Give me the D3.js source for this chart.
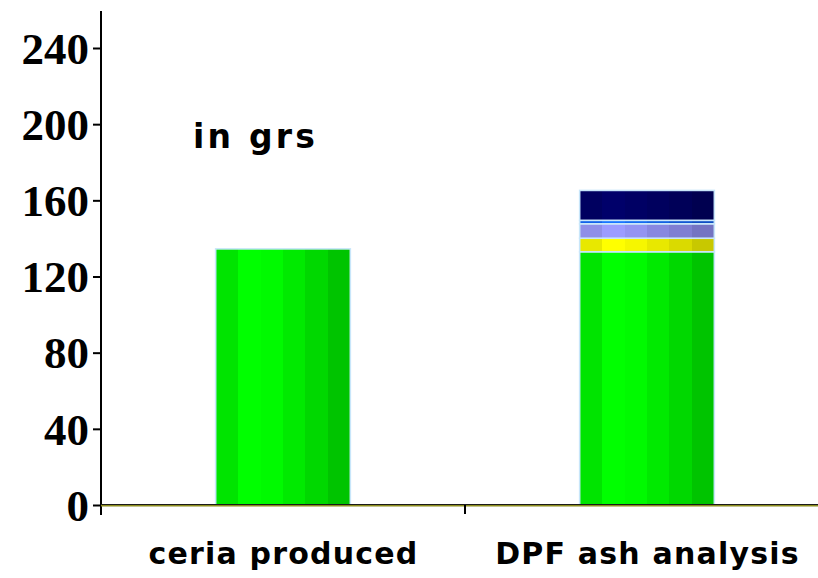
<!DOCTYPE html>
<html>
<head>
<meta charset="utf-8">
<script src="https://cdn.jsdelivr.net/npm/d3@7"></script>
<style>
  html, body { margin: 0; padding: 0; background: #fff; }
  svg { display: block; }
</style>
</head>
<body>
<svg id="chart" width="818" height="578"></svg>
<script>
// Categories and stacked components (grams)
const categories = ["ceria produced", "DPF ash analysis"];
const ceria      = [134.5, 133];
const yellowPart = [0, 7.1];
const violetPart = [0, 7.6];
const bluePart   = [0, 1.8];
const navyPart   = [0, 15.7];
const yTicks     = [0, 40, 80, 120, 160, 200, 240];
const unitLabel  = "in grs";

const seriesKeys = ["ceria", "yellow", "violet", "blue", "navy"];
const seriesData = { ceria, yellow: yellowPart, violet: violetPart, blue: bluePart, navy: navyPart };
const palette = {
  ceria:  ["#00e400", "#00ff00", "#00fa00", "#00ea00", "#00d800", "#00c400"],
  yellow: ["#e8e800", "#ffff00", "#f6f600", "#e8e800", "#dada00", "#c8c800"],
  violet: ["#8f8fe8", "#9c9cff", "#9494f2", "#8888e0", "#7f7fd2", "#7474c2"],
  blue:   ["#0a5ce8", "#1070ff", "#0c66f0", "#0a5ce0", "#0852d0", "#0648c0"],
  navy:   ["#000060", "#00006a", "#000064", "#00005e", "#000058", "#000050"]
};

const x0 = 101, x1 = 829;           // category axis extent
const yZero = 505, yTopPx = 11;

const svg = d3.select("#chart");
const defs = svg.append("defs");

// Banded horizontal shading for the bar faces
seriesKeys.forEach(k => {
  const g = defs.append("linearGradient").attr("id", "grad-" + k)
    .attr("x1", "0%").attr("x2", "100%").attr("y1", "0%").attr("y2", "0%");
  const cols = palette[k];
  const n = cols.length;
  cols.forEach((c, i) => {
    g.append("stop").attr("offset", (i / n * 100) + "%").attr("stop-color", c);
    g.append("stop").attr("offset", ((i + 1) / n * 100) + "%").attr("stop-color", c);
  });
});

const x = d3.scaleBand().domain(categories).range([x0, x1]).paddingInner(0).paddingOuter(0);
const y = d3.scaleLinear().domain([0, 240]).range([yZero, 48]);
const yMax = y.invert(yTopPx);

const barFrac = 0.37;

const table = categories.map((c, i) => {
  const row = { category: c };
  seriesKeys.forEach(k => row[k] = seriesData[k][i]);
  return row;
});
const stacked = d3.stack().keys(seriesKeys)(table);

// Bars
const bw = x.bandwidth() * barFrac;
stacked.forEach(layer => {
  svg.append("g").selectAll("rect")
    .data(layer.filter(d => d[1] - d[0] > 0))
    .join("rect")
    .attr("x", d => x(d.data.category) + (x.bandwidth() - bw) / 2)
    .attr("y", d => y(d[1]))
    .attr("width", bw)
    .attr("height", d => y(d[0]) - y(d[1]))
    .attr("fill", "url(#grad-" + layer.key + ")")
    .attr("stroke", "#c8e6fa")
    .attr("stroke-width", 1.6);
});

// Value axis
const yAxis = d3.axisLeft(y).tickValues(yTicks).tickSize(8).tickPadding(4).tickFormat(d3.format("d"));
const gy = svg.append("g").attr("transform", `translate(${x0},0)`).call(yAxis);
gy.select(".domain").remove();
gy.append("line").attr("x1", 0).attr("x2", 0).attr("y1", y(yMax)).attr("y2", yZero + 10)
  .attr("stroke", "#000").attr("stroke-width", 2);
gy.selectAll(".tick line").attr("stroke", "#000").attr("stroke-width", 2);
gy.selectAll(".tick text")
  .attr("fill", "#000")
  .attr("dy", "0.34em")
  .style("font-family", "'Liberation Serif', 'Times New Roman', serif")
  .style("font-weight", "bold")
  .style("font-size", "45px");

// Category axis
const xAxis = d3.axisBottom(x).tickSize(0).tickPadding(38);
const gx = svg.append("g").attr("transform", `translate(0,${yZero})`).call(xAxis);
gx.select(".domain").remove();
gx.append("line").attr("x1", x0).attr("x2", x1).attr("y1", 0.5).attr("y2", 0.5)
  .attr("stroke", "#8c8c1e").attr("stroke-width", 2);
gx.append("line").attr("x1", x0).attr("x2", x1).attr("y1", -0.5).attr("y2", -0.5)
  .attr("stroke", "#1a1a1a").attr("stroke-width", 1);
// boundary tick between categories
gx.append("line")
  .attr("x1", x(categories[1])).attr("x2", x(categories[1]))
  .attr("y1", 0).attr("y2", 9)
  .attr("stroke", "#000").attr("stroke-width", 2);
gx.selectAll(".tick text")
  .attr("fill", "#000")
  .attr("dx", "0.5px")
  .style("font-family", "'DejaVu Sans', Verdana, sans-serif")
  .style("font-weight", "bold")
  .style("font-size", "30px")
  .style("letter-spacing", "1.2px");

// Unit label
svg.append("text")
  .attr("x", 193).attr("y", 148)
  .attr("fill", "#000")
  .style("font-family", "'DejaVu Sans', Verdana, sans-serif")
  .style("font-weight", "bold")
  .style("font-size", "33px")
  .style("letter-spacing", "3.2px")
  .text(unitLabel);
</script>
</body>
</html>
